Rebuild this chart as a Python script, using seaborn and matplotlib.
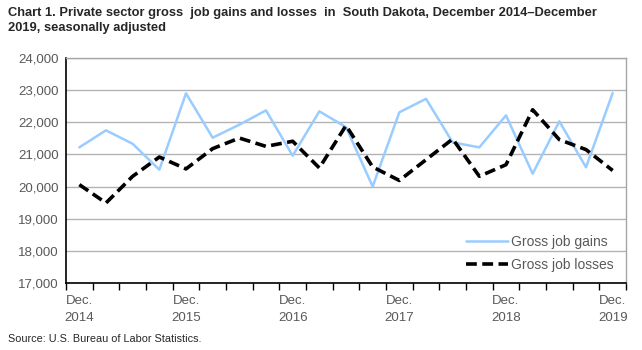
import matplotlib
matplotlib.use("Agg")
import matplotlib.pyplot as plt
import seaborn as sns
import pandas as pd
import numpy as np

quarters = ["Dec 2014", "Mar 2015", "Jun 2015", "Sep 2015", "Dec 2015", "Mar 2016", "Jun 2016",
            "Sep 2016", "Dec 2016", "Mar 2017", "Jun 2017", "Sep 2017", "Dec 2017", "Mar 2018",
            "Jun 2018", "Sep 2018", "Dec 2018", "Mar 2019", "Jun 2019", "Sep 2019", "Dec 2019"]
gains = [21220, 21750, 21330, 20525, 22900, 21520, 21925, 22370, 20960, 22340, 21850,
         20000, 22310, 22730, 21375, 21220, 22215, 20400, 22030, 20600, 22910]
losses = [20060, 19490, 20320, 20920, 20550, 21180, 21510, 21250, 21410, 20580, 21900,
          20610, 20190, 20835, 21480, 20320, 20680, 22390, 21460, 21150, 20500]
tick_labels = ["Dec.\n2014", "Dec.\n2015", "Dec.\n2016", "Dec.\n2017", "Dec.\n2018", "Dec.\n2019"]

sns.set_theme(style="white")
plt.rcParams['font.family'] = ['Liberation Sans', 'DejaVu Sans']

n = len(quarters)
df = pd.DataFrame({
    "pos": list(range(n)) * 2,
    "value": gains + losses,
    "series": ["Gross job gains"] * n + ["Gross job losses"] * n,
})

fig = plt.figure(figsize=(6.42, 3.5), dpi=100)
ax = fig.add_axes([66/642, 1 - 283/350, 560/642, 225/350])

sns.lineplot(data=df, x="pos", y="value", hue="series", style="series",
             palette={"Gross job gains": "#99ccff", "Gross job losses": "#000000"},
             dashes={"Gross job gains": "", "Gross job losses": (3, 1.5)},
             ax=ax, legend=True)
lines = ax.get_lines()
lines[0].set_linewidth(1.8)
lines[1].set_linewidth(2.6)

ax.set_xlim(-0.5, n - 0.5)
ax.set_ylim(17000, 24000)
ax.set_yticks(range(17000, 24001, 1000))
ax.set_yticklabels([f"{v:,}" for v in range(17000, 24001, 1000)])
ax.set_xticks(range(0, n, 4))
ax.set_xticklabels(tick_labels, multialignment="center", linespacing=1.45)
ax.set_xticks(np.arange(-0.5, n, 1), minor=True)
ax.tick_params(axis="x", which="major", length=0, pad=9, labelsize=9.5, labelcolor="#595959")
ax.tick_params(axis="x", which="minor", length=5, width=1, color="black", direction="out", bottom=True)
ax.tick_params(axis="y", length=0, pad=5, labelsize=9.5, labelcolor="#595959")
ax.set_xlabel("")
ax.set_ylabel("")
ax.yaxis.grid(True, color="#b3b3b3", linewidth=1)
ax.set_axisbelow(True)
for s in ["top", "right"]:
    ax.spines[s].set_color("#a6a6a6")
    ax.spines[s].set_linewidth(1)
for s in ["left", "bottom"]:
    ax.spines[s].set_color("black")
    ax.spines[s].set_linewidth(1.2)

h, l = ax.get_legend_handles_labels()
h[0].set_linewidth(1.8)
h[1].set_linewidth(2.6)
ax.legend(h, l, loc="lower right", bbox_to_anchor=(1.0, -0.005), frameon=False,
          fontsize=10, handlelength=3.0, labelcolor="#595959", labelspacing=0.65, handletextpad=0.2)

fig.text(8/642, 1 - 7/350, "Chart 1. Private sector gross  job gains and losses  in  South Dakota, December 2014\u2013December\n2019, seasonally adjusted",
         ha="left", va="top", fontsize=9.3, fontweight="bold", linespacing=1.3)
fig.text(8/642, 1 - 344/350, "Source: U.S. Bureau of Labor Statistics.", ha="left", va="bottom",
         fontsize=7.8)

fig.savefig("out.png", dpi=100)
